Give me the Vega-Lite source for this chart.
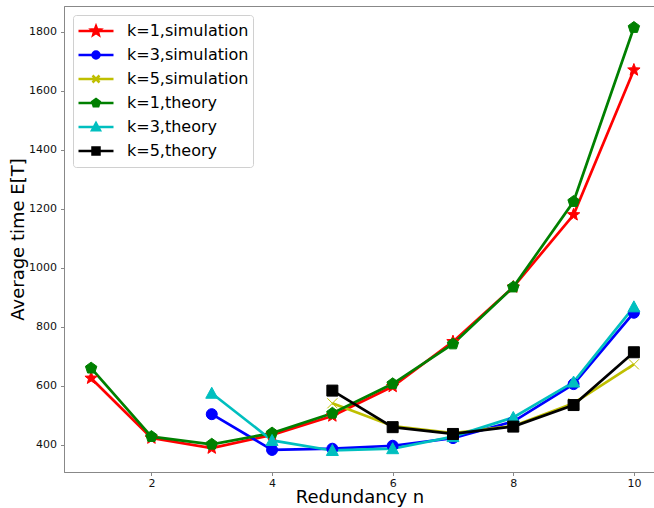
{
  "$schema": "https://vega.github.io/schema/vega-lite/v6.json",
  "width": 591,
  "height": 466,
  "autosize": "none",
  "padding": {"left": 64, "top": 6, "right": 0, "bottom": 36},
  "background": "white",
  "config": {
    "font": "DejaVu Sans",
    "view": {"stroke": "#888888", "strokeWidth": 1},
    "axis": {
      "domainColor": "#888888",
      "tickColor": "#888888",
      "tickSize": 3.5,
      "grid": false,
      "labelFont": "DejaVu Sans",
      "labelFontSize": 11,
      "labelColor": "#111111",
      "titleFont": "DejaVu Sans",
      "titleFontSize": 18,
      "titleFontWeight": "normal",
      "titleColor": "#000000"
    },
    "point": {"filled": true, "size": 100, "strokeWidth": 1, "opacity": 1}
  },
  "data": {
    "values": [
      {"series": "k=1,simulation", "n": 1, "t": 626},
      {"series": "k=1,simulation", "n": 2, "t": 423},
      {"series": "k=1,simulation", "n": 3, "t": 389},
      {"series": "k=1,simulation", "n": 4, "t": 434},
      {"series": "k=1,simulation", "n": 5, "t": 498},
      {"series": "k=1,simulation", "n": 6, "t": 598},
      {"series": "k=1,simulation", "n": 7, "t": 750},
      {"series": "k=1,simulation", "n": 8, "t": 935},
      {"series": "k=1,simulation", "n": 9, "t": 1180},
      {"series": "k=1,simulation", "n": 10, "t": 1671},
      {"series": "k=3,simulation", "n": 3, "t": 504},
      {"series": "k=3,simulation", "n": 4, "t": 383},
      {"series": "k=3,simulation", "n": 5, "t": 387},
      {"series": "k=3,simulation", "n": 6, "t": 397},
      {"series": "k=3,simulation", "n": 7, "t": 423},
      {"series": "k=3,simulation", "n": 8, "t": 479},
      {"series": "k=3,simulation", "n": 9, "t": 606},
      {"series": "k=3,simulation", "n": 10, "t": 848},
      {"series": "k=5,simulation", "n": 5, "t": 541},
      {"series": "k=5,simulation", "n": 6, "t": 464},
      {"series": "k=5,simulation", "n": 7, "t": 440},
      {"series": "k=5,simulation", "n": 8, "t": 464},
      {"series": "k=5,simulation", "n": 9, "t": 541},
      {"series": "k=5,simulation", "n": 10, "t": 673},
      {"series": "k=1,theory", "n": 1, "t": 660},
      {"series": "k=1,theory", "n": 2, "t": 428},
      {"series": "k=1,theory", "n": 3, "t": 402},
      {"series": "k=1,theory", "n": 4, "t": 440},
      {"series": "k=1,theory", "n": 5, "t": 507},
      {"series": "k=1,theory", "n": 6, "t": 607},
      {"series": "k=1,theory", "n": 7, "t": 742},
      {"series": "k=1,theory", "n": 8, "t": 935},
      {"series": "k=1,theory", "n": 9, "t": 1225},
      {"series": "k=1,theory", "n": 10, "t": 1815},
      {"series": "k=3,theory", "n": 3, "t": 575},
      {"series": "k=3,theory", "n": 4, "t": 415},
      {"series": "k=3,theory", "n": 5, "t": 381},
      {"series": "k=3,theory", "n": 6, "t": 387},
      {"series": "k=3,theory", "n": 7, "t": 428},
      {"series": "k=3,theory", "n": 8, "t": 493},
      {"series": "k=3,theory", "n": 9, "t": 613},
      {"series": "k=3,theory", "n": 10, "t": 868},
      {"series": "k=5,theory", "n": 5, "t": 584},
      {"series": "k=5,theory", "n": 6, "t": 460},
      {"series": "k=5,theory", "n": 7, "t": 437},
      {"series": "k=5,theory", "n": 8, "t": 462},
      {"series": "k=5,theory", "n": 9, "t": 535},
      {"series": "k=5,theory", "n": 10, "t": 714}
    ]
  },
  "encoding": {
    "x": {
      "field": "n",
      "type": "quantitative",
      "title": "Redundancy n",
      "scale": {"domain": [0.55, 10.35], "nice": false, "zero": false},
      "axis": {"values": [2, 4, 6, 8, 10], "labelPadding": 2, "titlePadding": 0}
    },
    "y": {
      "field": "t",
      "type": "quantitative",
      "title": "Average time E[T]",
      "scale": {"domain": [308, 1888], "nice": false, "zero": false},
      "axis": {"values": [400, 600, 800, 1000, 1200, 1400, 1600, 1800], "format": "d", "labelPadding": 4, "titlePadding": 1.5}
    },
    "color": {
      "field": "series",
      "type": "nominal",
      "title": null,
      "scale": {
        "domain": ["k=1,simulation", "k=3,simulation", "k=5,simulation", "k=1,theory", "k=3,theory", "k=5,theory"],
        "range": ["#ff0000", "#0000ff", "#bfbf00", "#008000", "#00bfbf", "#000000"]
      },
      "legend": {
        "orient": "top-left",
        "offset": 9,
        "padding": 4,
        "rowPadding": 0,
        "clipHeight": 24,
        "symbolSize": 1225,
        "symbolStrokeWidth": 2.5,
        "symbolOffset": 0,
        "labelOffset": 12,
        "labelFont": "DejaVu Sans",
        "labelFontSize": 16,
        "labelColor": "#000000",
        "labelLimit": 300,
        "fillColor": "rgba(255,255,255,0.85)",
        "strokeColor": "#d0d0d0",
        "cornerRadius": 3,
        "encode": {
          "symbols": {
            "update": {
              "shape": {"signal": "datum.value === 'k=1,simulation' ? 'M-1,0L1,0M0,-0.27L0.067,-0.093L0.257,-0.084L0.109,0.035L0.159,0.219L0,0.114L-0.159,0.219L-0.109,0.035L-0.257,-0.084L-0.067,-0.093Z' : datum.value === 'k=3,simulation' ? 'M-1,0L1,0M-0.2,0A0.2,0.2,0,1,0,0.2,0A0.2,0.2,0,1,0,-0.2,0Z' : datum.value === 'k=5,simulation' ? 'M-1,0L1,0M-0.2,-0.2L0.2,0.2M-0.2,0.2L0.2,-0.2' : datum.value === 'k=1,theory' ? 'M-1,0L1,0M0,-0.225L0.214,-0.07L0.132,0.182L-0.132,0.182L-0.214,-0.07Z' : datum.value === 'k=3,theory' ? 'M-1,0L1,0M0,-0.225L0.225,0.19L-0.225,0.19Z' : 'M-1,0L1,0M-0.2,-0.2L0.2,-0.2L0.2,0.2L-0.2,0.2Z'"},
              "fill": {"scale": "color", "field": "value"},
              "stroke": {"scale": "color", "field": "value"},
              "strokeWidth": {"value": 2.5},
              "opacity": {"value": 1}
            }
          }
        }
      }
    }
  },
  "layer": [
    {
      "mark": {"type": "line", "strokeWidth": 2.7},
      "encoding": {}
    },
    {
      "transform": [{"filter": {"field": "series", "equal": "k=1,simulation"}}],
      "mark": {"type": "point", "stroke": "#ff0000", "shape": "M0,-1.3L0.323,-0.445L1.236,-0.402L0.523,0.17L0.764,1.052L0,0.55L-0.764,1.052L-0.523,0.17L-1.236,-0.402L-0.323,-0.445Z"},
      "encoding": {}
    },
    {
      "transform": [{"filter": {"field": "series", "equal": "k=3,simulation"}}],
      "mark": {"type": "point", "stroke": "#0000ff", "shape": "M-1.1,0A1.1,1.1,0,1,0,1.1,0A1.1,1.1,0,1,0,-1.1,0Z"},
      "encoding": {}
    },
    {
      "transform": [{"filter": {"field": "series", "equal": "k=5,simulation"}}],
      "mark": {"type": "point", "stroke": "#bfbf00", "shape": "M-1,-1L1,1M-1,1L1,-1"},
      "encoding": {}
    },
    {
      "transform": [{"filter": {"field": "series", "equal": "k=1,theory"}}],
      "mark": {"type": "point", "stroke": "#008000", "shape": "M0,-1.2L1.141,-0.371L0.705,0.971L-0.705,0.971L-1.141,-0.371Z"},
      "encoding": {}
    },
    {
      "transform": [{"filter": {"field": "series", "equal": "k=3,theory"}}],
      "mark": {"type": "point", "stroke": "#00bfbf", "shape": "M0,-1.2L1.2,1L-1.2,1Z"},
      "encoding": {}
    },
    {
      "transform": [{"filter": {"field": "series", "equal": "k=5,theory"}}],
      "mark": {"type": "point", "stroke": "#000000", "shape": "M-1.1,-1.1L1.1,-1.1L1.1,1.1L-1.1,1.1Z"},
      "encoding": {}
    }
  ]
}
